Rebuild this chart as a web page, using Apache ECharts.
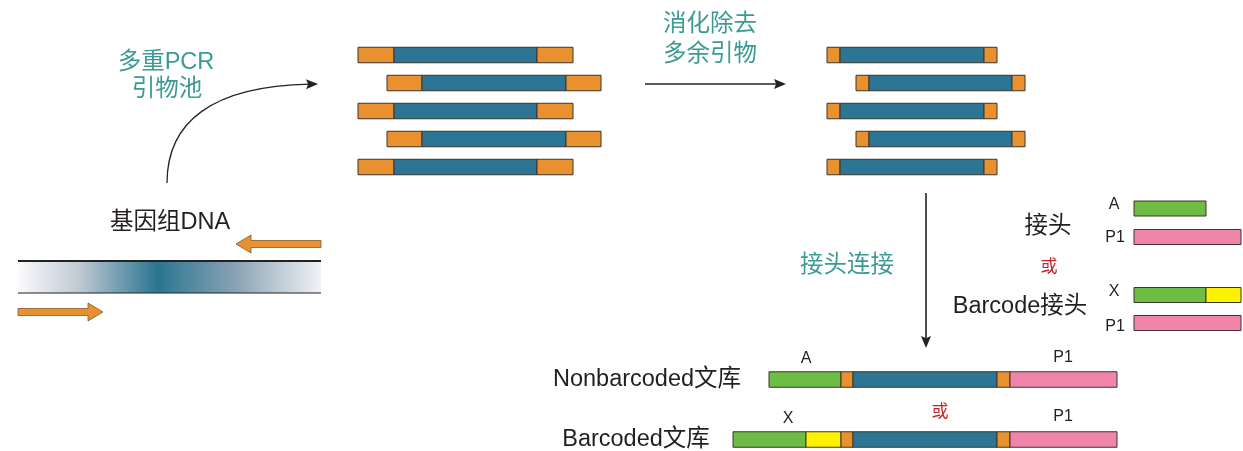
<!DOCTYPE html>
<html>
<head>
<meta charset="utf-8">
<script src="https://cdn.jsdelivr.net/npm/echarts@6/dist/echarts.min.js"></script>
<style>
html,body{margin:0;padding:0;background:#fff;}
#chart{width:1243px;height:451px;}
</style>
</head>
<body>
<div id="chart"></div>
<script>
// ---------- data (in diagram axis units: x 0..1243, y 0..451 top-down) ----------
const pcrRows = [55, 83, 111, 139, 167];
const pcrProducts = [
  [358, 394, 537, 573],
  [387, 422, 566, 601],
  [358, 394, 537, 573],
  [387, 422, 566, 601],
  [358, 394, 537, 573]
];
const digestedRows = [55, 83, 111, 139, 167];
const digestedProducts = [
  [827, 840, 984, 997],
  [856, 869, 1012, 1025],
  [827, 840, 984, 997],
  [856, 869, 1012, 1025],
  [827, 840, 984, 997]
];
const adapterRows = [208.5, 237, 295, 323];
const adapterBreaks = [[1134, 1206], [1134, 1241], [1134, 1206, 1241], [1134, 1241]];
const adapterParts = [['green'], ['pink'], ['green', 'yellow'], ['pink']];
const libraryRows = [379.5, 439.5];
const libraryBreaks = [
  [769, 841, 853, 997, 1010, 1117],
  [733, 806, 841, 853, 997, 1010, 1117]
];
const libraryParts = [
  ['green', 'orange', 'blue', 'orange', 'pink'],
  ['green', 'yellow', 'orange', 'blue', 'orange', 'pink']
];
const genomeBand = [18, 321, 261, 293];
const primerArrows = [[321, 244, 236], [18, 312, 103]]; // tail x, y, tip x
const lineArrows = [[645, 84, 786, 84], [926, 193, 926, 348]];
const curveArrow = [[167, 183], [167, 122], [212, 86], [318, 84]];
const labelTexts = ['多重PCR', '引物池', '消化除去', '多余引物', '基因组DNA', '接头连接', '接头', '或', 'Barcode接头',
  'A', 'P1', 'X', 'P1', 'A', 'P1', 'X', 'P1', '或', 'Nonbarcoded文库', 'Barcoded文库'];
const labelX = [166, 167, 710, 710, 170, 847, 1048, 1049, 1020, 1114, 1115, 1114, 1115, 806, 1063, 788, 1063, 940, 647, 636];
const labelY = [63, 90, 25, 55, 223, 266, 227, 267, 307, 205, 238, 292, 327, 359, 358, 419, 417, 412, 380, 440];
const labelRole = ['teal', 'teal', 'teal', 'teal', 'dark', 'teal', 'dark', 'red', 'dark',
  'small', 'small', 'small', 'small', 'small', 'small', 'small', 'small', 'red', 'dark', 'dark'];

// ---------- styles ----------
const COLORS = {orange: '#e9912f', blue: '#2c7593', green: '#6dbd45', yellow: '#fff200', pink: '#f084aa'};
const BAR_H = 15.5;
const ADAPTER_H = 15;
const FONT = '"Liberation Sans", Arial, "Noto Sans CJK SC", sans-serif';
const ROLE_STYLE = {
  teal: {fill: '#3b9a94', size: 23.5},
  dark: {fill: '#231f20', size: 23.5},
  red: {fill: '#c1272d', size: 17},
  small: {fill: '#231f20', size: 16}
};

// ---------- build segment list ----------
const segments = []; // [x0, x1, y, colorName, height]
function addProducts(rows, prods) {
  prods.forEach((p, i) => {
    segments.push([p[0], p[1], rows[i], 'orange', BAR_H]);
    segments.push([p[1], p[2], rows[i], 'blue', BAR_H]);
    segments.push([p[2], p[3], rows[i], 'orange', BAR_H]);
  });
}
addProducts(pcrRows, pcrProducts);
addProducts(digestedRows, digestedProducts);
adapterRows.forEach((y, i) => {
  adapterParts[i].forEach((c, j) => segments.push([adapterBreaks[i][j], adapterBreaks[i][j + 1], y, c, ADAPTER_H]));
});
libraryRows.forEach((y, i) => {
  libraryParts[i].forEach((c, j) => segments.push([libraryBreaks[i][j], libraryBreaks[i][j + 1], y, c, BAR_H]));
});

const chart = echarts.init(document.getElementById('chart'), null, {renderer: 'canvas'});

function headPoints(tip, dx, dy, len, hw) {
  const n = Math.hypot(dx, dy); const ux = dx / n, uy = dy / n;
  const bx = tip[0] - ux * len, by = tip[1] - uy * len;
  return [[tip[0], tip[1]], [bx - uy * hw, by + ux * hw], [bx + ux * len * 0.18, by + uy * len * 0.18], [bx + uy * hw, by - ux * hw]];
}

const option = {
  animation: false,
  backgroundColor: '#ffffff',
  grid: {left: 0, right: 0, top: 0, bottom: 0},
  xAxis: {type: 'value', min: 0, max: 1243, show: false},
  yAxis: {type: 'value', min: 0, max: 451, inverse: true, show: false},
  series: [
    { // genomic DNA band
      type: 'custom', clip: false, silent: true,
      data: [[genomeBand[0], genomeBand[2], genomeBand[1], genomeBand[3]]],
      encode: {x: [0, 2], y: [1, 3]},
      renderItem: function (params, api) {
        const a = api.coord([api.value(0), api.value(1)]);
        const b = api.coord([api.value(2), api.value(3)]);
        return {type: 'group', children: [
          {type: 'rect', shape: {x: a[0], y: a[1], width: b[0] - a[0], height: b[1] - a[1]},
            style: {fill: new echarts.graphic.LinearGradient(0, 0, 1, 0, [
              {offset: 0, color: '#fafafb'},
              {offset: 0.2, color: '#c0cad4'},
              {offset: 0.46, color: '#2a7590'},
              {offset: 0.72, color: '#8aa3b4'},
              {offset: 1, color: '#f1f2f5'}
            ])}},
          {type: 'line', shape: {x1: a[0], y1: a[1], x2: b[0], y2: a[1]}, style: {stroke: '#222', lineWidth: 2}},
          {type: 'line', shape: {x1: a[0], y1: b[1], x2: b[0], y2: b[1]}, style: {stroke: '#222', lineWidth: 1.2}}
        ]};
      }
    },
    { // bar segments
      type: 'custom', clip: false, silent: true,
      data: segments.map(s => [s[0], s[1], s[2]]),
      encode: {x: [0, 1], y: 2},
      renderItem: function (params, api) {
        const s = segments[params.dataIndex];
        const p0 = api.coord([api.value(0), api.value(2)]);
        const p1 = api.coord([api.value(1), api.value(2)]);
        const h = api.size([0, s[4]])[1];
        return {type: 'rect',
          shape: {x: p0[0], y: p0[1] - h / 2, width: p1[0] - p0[0], height: h},
          style: {fill: COLORS[s[3]], stroke: '#3c3530', lineWidth: 1}};
      }
    },
    { // primer block arrows
      type: 'custom', clip: false, silent: true,
      data: primerArrows.map(a => [a[0], a[1], a[2]]),
      encode: {x: [0, 2], y: 1},
      renderItem: function (params, api) {
        const tail = api.coord([api.value(0), api.value(1)]);
        const tip = api.coord([api.value(2), api.value(1)]);
        const dir = tip[0] > tail[0] ? 1 : -1;
        const headLen = 15, sh = 3.5, hh = 9;
        const hb = tip[0] - dir * headLen;
        const y = tail[1];
        return {type: 'polygon', shape: {points: [
          [tail[0], y - sh], [hb, y - sh], [hb, y - hh], [tip[0], y], [hb, y + hh], [hb, y + sh], [tail[0], y + sh]
        ]}, style: {fill: '#e9912f', stroke: '#7d5a36', lineWidth: 0.8}};
      }
    },
    { // straight arrows
      type: 'custom', clip: false, silent: true,
      data: lineArrows,
      encode: {x: [0, 2], y: [1, 3]},
      renderItem: function (params, api) {
        const a = api.coord([api.value(0), api.value(1)]);
        const b = api.coord([api.value(2), api.value(3)]);
        const dx = b[0] - a[0], dy = b[1] - a[1];
        const n = Math.hypot(dx, dy);
        const end = [b[0] - dx / n * 8, b[1] - dy / n * 8];
        return {type: 'group', children: [
          {type: 'line', shape: {x1: a[0], y1: a[1], x2: end[0], y2: end[1]}, style: {stroke: '#222', lineWidth: 1.6}},
          {type: 'polygon', shape: {points: headPoints(b, dx, dy, 12, 5)}, style: {fill: '#222'}}
        ]};
      }
    },
    { // curved arrow
      type: 'custom', clip: false, silent: true,
      data: [[curveArrow[0][0], curveArrow[0][1], curveArrow[1][0], curveArrow[1][1], curveArrow[2][0], curveArrow[2][1], curveArrow[3][0], curveArrow[3][1]]],
      encode: {x: [0, 2, 4, 6], y: [1, 3, 5, 7]},
      renderItem: function (params, api) {
        const p = [0, 1, 2, 3].map(i => api.coord([api.value(2 * i), api.value(2 * i + 1)]));
        const dx = p[3][0] - p[2][0], dy = p[3][1] - p[2][1];
        const n = Math.hypot(dx, dy);
        return {type: 'group', children: [
          {type: 'bezierCurve', shape: {x1: p[0][0], y1: p[0][1], cpx1: p[1][0], cpy1: p[1][1], cpx2: p[2][0], cpy2: p[2][1],
            x2: p[3][0] - dx / n * 8, y2: p[3][1] - dy / n * 8}, style: {stroke: '#222', lineWidth: 1.3, fill: null}},
          {type: 'polygon', shape: {points: headPoints(p[3], dx, dy, 12, 5)}, style: {fill: '#222'}}
        ]};
      }
    },
    { // text labels
      type: 'custom', clip: false, silent: true,
      data: labelX.map((x, i) => [x, labelY[i]]),
      encode: {x: 0, y: 1},
      renderItem: function (params, api) {
        const i = params.dataIndex;
        const p = api.coord([api.value(0), api.value(1)]);
        const st = ROLE_STYLE[labelRole[i]];
        return {type: 'text', style: {text: labelTexts[i], x: p[0], y: p[1], fill: st.fill,
          font: st.size + 'px ' + FONT, align: 'center', verticalAlign: 'middle'}};
      }
    }
  ]
};
chart.setOption(option);
</script>
</body>
</html>
